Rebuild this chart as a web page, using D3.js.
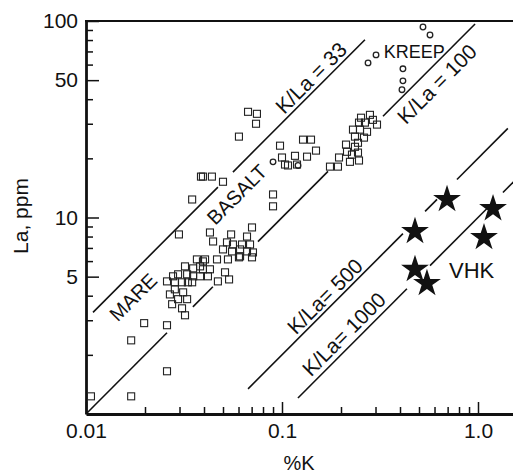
<!DOCTYPE html>
<html>
<head>
<meta charset="utf-8">
<script src="https://cdn.jsdelivr.net/npm/d3@7"></script>
<style>
  body { margin: 0; background: #fff; }
  text { fill: #111; }
</style>
</head>
<body>
<script>
// mare basalt samples [%K, La ppm]
const mareBasalt = [
  [0.0106, 1.23], [0.0170, 1.23], [0.0170, 2.37], [0.0198, 2.90], [0.0259, 2.83], [0.0259, 1.65],
  [0.0298, 8.2],
  [0.0259, 4.73], [0.0268, 4.06], [0.0275, 3.62], [0.0284, 4.31], [0.0295, 3.84], [0.0309, 3.45],
  [0.0320, 3.18], [0.0328, 3.84], [0.0309, 4.68], [0.0295, 5.14], [0.0328, 5.14], [0.0352, 5.51],
  [0.0368, 6.12], [0.0405, 6.12], [0.0382, 5.64], [0.0419, 5.02], [0.0352, 5.02], [0.0471, 4.73],
  [0.0537, 4.84], [0.0512, 5.26], [0.0466, 6.12], [0.0500, 6.88], [0.0530, 6.12], [0.0550, 8.2],
  [0.0562, 7.29], [0.0611, 6.88], [0.0611, 6.34], [0.0663, 6.72], [0.0663, 8.0], [0.0711, 6.64],
  [0.0445, 7.55], [0.0429, 8.39], [0.0278, 5.02], [0.0320, 5.64], [0.0331, 4.68], [0.0395, 5.98],
  [0.0395, 5.45], [0.0625, 7.29], [0.0524, 7.47], [0.0603, 6.27], [0.0284, 4.68], [0.0313, 4.16],
  [0.0348, 4.68], [0.0382, 5.02], [0.0703, 6.27], [0.0687, 7.29], [0.0556, 6.72], [0.0429, 5.45],
  [0.0703, 8.9],
  [0.0386, 16.15], [0.0348, 12.35], [0.0671, 34.5], [0.0745, 33.7], [0.0737, 30.0], [0.0603, 25.8],
  [0.0395, 16.15], [0.0439, 16.15], [0.0500, 15.2], [0.0900, 13.1], [0.0900, 11.4], [0.0977, 23.2],
  [0.100, 20.2], [0.1073, 18.4], [0.1165, 20.6], [0.1193, 18.6], [0.1036, 18.6], [0.1342, 20.4],
  [0.128, 24.9], [0.1406, 24.9], [0.1491, 21.9],
  [0.1757, 18.15], [0.193, 18.15], [0.1954, 20.2], [0.2146, 21.6], [0.2121, 23.5], [0.2357, 25.8],
  [0.2302, 28.0], [0.25, 28.0], [0.253, 32.2], [0.265, 30.4], [0.281, 33.3], [0.291, 31.4],
  [0.3053, 29.7], [0.2716, 27.3], [0.262, 25.5], [0.2442, 24.0], [0.2442, 21.4], [0.2357, 22.9],
  [0.2275, 20.9], [0.2222, 19.2], [0.2471, 19.5], [0.2471, 30.4]
]

// KREEP samples
const kreep = [
  [0.2748, 61.2], [0.3018, 67.2], [0.414, 57.1], [0.414, 49.6], [0.4093, 44.7],
  [0.524, 93.2], [0.569, 84.9], [0.090, 19.2], [0.1207, 18.4]
]

// very high K basalts
const vhk = [
  [0.695, 12.35], [0.477, 8.49], [1.193, 11.1], [1.073, 7.91], [0.477, 5.45], [0.549, 4.62]
]

// constant K/La ratio lines, drawn as broken segments (%K ranges)
const ratios = [33, 100, 500, 1000]
const ratioSegments = [
  [[0.01086, 0.0471], [0.0562, 0.265]],
  [[0.01, 0.0259], [0.0351, 0.0444], [0.0754, 0.1717], [0.3275, 0.966]],
  [[0.0671, 0.414], [0.537, 0.618], [0.781, 1.42]],
  [[0.1206, 0.434], [0.569, 1.151], [1.34, 1.6]]
]

// annotation labels, placed in data units
const rotatedLabels = [
  { text: "MARE", k: 0.0174, la: 3.93, size: 20 },
  { text: "BASALT", k: 0.0589, la: 13.1, size: 20 },
  { text: "K/La = 33", k: 0.1406, la: 51.4, size: 21 },
  { text: "K/La = 100", k: 0.618, la: 47.9, size: 21 },
  { text: "K/La= 500", k: 0.1656, la: 3.97, size: 21 },
  { text: "K/La= 1000", k: 0.207, la: 2.55, size: 21 }
]

const xMajor = [0.01, 0.1, 1]
const xTickLabels = ["0.01", "0.1", "1.0"]
const xMinor = [0.02, 0.03, 0.04, 0.05, 0.06, 0.07, 0.08, 0.09, 0.2, 0.3, 0.4, 0.5, 0.6, 0.7, 0.8, 0.9]
const yMajor = [5, 10, 50, 100]
const yTickLabels = ["5", "10", "50", "100"]
const yMinor = [2, 3, 4, 6, 7, 8, 9, 20, 30, 40, 60, 70, 80, 90]

const font = "'Liberation Sans', Arial, Helvetica, sans-serif"

const x = d3.scaleLog().domain([0.01, 1.6]).range([86, 86 + 196 * Math.log10(160)])
const y = d3.scaleLog().domain([1, 100]).range([414, 21])

const svg = d3.select("body").append("svg").attr("width", 513).attr("height", 473).style("font-family", font)

// ratio lines
const line = d3.line().x(d => x(d[0])).y(d => y(d[1]))
ratios.forEach((r, i) => {
  svg.append("g")
    .selectAll("path")
    .data(ratioSegments[i])
    .enter()
    .append("path")
    .attr("d", s => line([[s[0], s[0] * 10000 / r], [s[1], s[1] * 10000 / r]]))
    .attr("fill", "none")
    .attr("stroke", "#111")
    .attr("stroke-width", 1.6)
})

// minor ticks
svg.append("g").attr("transform", "translate(86,0)")
  .call(d3.axisLeft(y).tickValues(yMinor).tickSize(-7).tickFormat(""))
  .call(g => g.select(".domain").remove())
svg.append("g").attr("transform", "translate(0,414)")
  .call(d3.axisBottom(x).tickValues(xMinor).tickSize(-7).tickFormat(""))
  .call(g => g.select(".domain").remove())

// major ticks with labels
const yAxis = svg.append("g").attr("transform", "translate(86,0)")
  .call(d3.axisLeft(y).tickValues(yMajor).tickSize(-13).tickSizeOuter(0).tickPadding(8)
    .tickFormat((d, i) => yTickLabels[i]))
const xAxis = svg.append("g").attr("transform", "translate(0,414)")
  .call(d3.axisBottom(x).tickValues(xMajor).tickSize(-12).tickSizeOuter(0).tickPadding(9)
    .tickFormat((d, i) => xTickLabels[i]))

svg.selectAll(".tick line").attr("stroke", "#111").attr("stroke-width", 1.5)
svg.selectAll(".tick text").attr("font-size", 21).attr("font-family", font).attr("fill", "#111")
yAxis.select(".domain").attr("stroke", "#111").attr("stroke-width", 2.8)
xAxis.select(".domain").attr("stroke", "#111").attr("stroke-width", 2.8)

// top frame
svg.append("line").attr("x1", 85).attr("x2", 513).attr("y1", 21).attr("y2", 21)
  .attr("stroke", "#111").attr("stroke-width", 2.2)

// mare basalt squares
svg.append("g")
  .selectAll("rect")
  .data(mareBasalt)
  .enter()
  .append("rect")
  .attr("x", d => x(d[0]) - 3.5)
  .attr("y", d => y(d[1]) - 3.5)
  .attr("width", 7)
  .attr("height", 7)
  .attr("fill", "none")
  .attr("stroke", "#222")
  .attr("stroke-width", 1.1)

// KREEP circles
svg.append("g")
  .selectAll("circle")
  .data(kreep)
  .enter()
  .append("circle")
  .attr("cx", d => x(d[0]))
  .attr("cy", d => y(d[1]))
  .attr("r", 2.8)
  .attr("fill", "none")
  .attr("stroke", "#222")
  .attr("stroke-width", 1.3)

// VHK stars
svg.append("g")
  .selectAll("path")
  .data(vhk)
  .enter()
  .append("path")
  .attr("d", d3.symbol(d3.symbolStar).size(240))
  .attr("transform", d => `translate(${x(d[0])},${y(d[1])})`)
  .attr("fill", "#111")

// rotated labels along the lines
svg.append("g")
  .selectAll("text")
  .data(rotatedLabels)
  .enter()
  .append("text")
  .attr("transform", d => `translate(${x(d.k)},${y(d.la)}) rotate(-45)`)
  .attr("text-anchor", "middle")
  .attr("dy", "0.35em")
  .attr("font-size", d => d.size)
  .text(d => d.text)

svg.append("text").attr("x", x(0.33)).attr("y", y(64.9)).attr("font-size", 18).text("KREEP")
svg.append("text").attr("x", x(0.711)).attr("y", y(4.9)).attr("font-size", 22).text("VHK")

// axis titles
svg.append("text").attr("x", 299).attr("y", 470).attr("text-anchor", "middle").attr("font-size", 20).text("%K")
svg.append("text").attr("transform", "translate(28,216) rotate(-90)").attr("text-anchor", "middle")
  .attr("font-size", 21).text("La, ppm")
</script>
</body>
</html>
